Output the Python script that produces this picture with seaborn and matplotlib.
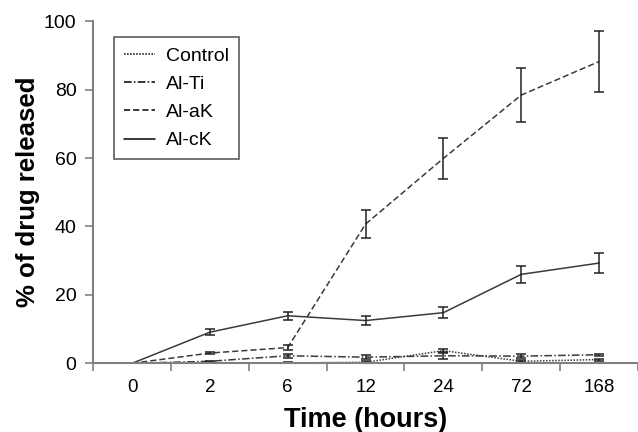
import matplotlib
matplotlib.use("Agg")
import matplotlib.pyplot as plt
import seaborn as sns
import pandas as pd
import numpy as np
from matplotlib.ticker import FixedLocator, NullFormatter

sns.set_style("white")
plt.rcParams['font.family'] = ['Liberation Sans', 'DejaVu Sans']
plt.rcParams['text.color'] = '#000000'
plt.rcParams['axes.labelcolor'] = '#000000'

time_labels = ["0", "2", "6", "12", "24", "72", "168"]
control = [0, 0, 0.1, 0.3, 3.7, 0.6, 1.1]
control_err = [0, 0.2, 0.2, 0.3, 0.4, 0.3, 0.3]
al_ti = [0, 0.6, 2.2, 1.8, 2.2, 2.1, 2.5]
al_ti_err = [0, 0.2, 0.6, 0.6, 0.8, 0.5, 0.3]
al_ak = [0, 3.0, 4.6, 40.7, 59.9, 78.4, 88.2]
al_ak_err = [0, 0.3, 0.7, 4.1, 5.9, 7.8, 8.8]
al_ck = [0, 9.1, 13.9, 12.5, 14.8, 26.0, 29.3]
al_ck_err = [0, 0.9, 1.2, 1.3, 1.6, 2.5, 3.0]

series = ["Control", "Al-Ti", "Al-aK", "Al-cK"]
values = [control, al_ti, al_ak, al_ck]
errors = [control_err, al_ti_err, al_ak_err, al_ck_err]

rows = []
for name, vals, errs in zip(series, values, errors):
    for i, (v, e) in enumerate(zip(vals, errs)):
        rows.append({"series": name, "pos": i, "time": time_labels[i], "value": v, "err": e})
df = pd.DataFrame(rows)

fig = plt.figure(figsize=(6.38, 4.32), dpi=100)
ax = fig.add_axes([0.146, 0.159, 0.854, 0.792])

styles = {
    "Control": (0, (1, 1)),
    "Al-Ti": (0, (5, 1.5, 1, 1.5)),
    "Al-aK": (0, (4, 2)),
    "Al-cK": "-",
}
line_color = "#3a3a3a"
for name in series:
    sub = df[df.series == name]
    sns.lineplot(data=sub, x="pos", y="value", ax=ax, color=line_color,
                 linewidth=1.1, label=name, linestyle=styles[name])
    ax.errorbar(sub["pos"], sub["value"], yerr=sub["err"], fmt="none",
                ecolor="#222222", elinewidth=1.1, capsize=3.5, capthick=1.1)

ax.set_xlim(-0.5, 6.5)
ax.set_ylim(0, 100)
ax.set_yticks([0, 20, 40, 60, 80, 100])
ax.set_xticks(range(len(time_labels)))
ax.set_xticklabels(time_labels)
ax.xaxis.set_minor_locator(FixedLocator(np.arange(-0.5, 7.0, 1.0)))
ax.xaxis.set_minor_formatter(NullFormatter())
ax.tick_params(axis="x", which="major", bottom=True, length=0, labelsize=13.5, pad=11, labelcolor="#000000")
ax.tick_params(axis="x", which="minor", bottom=True, length=6, width=1.2, color="#808080", direction="out")
ax.tick_params(axis="y", left=True, length=6, width=1.2, color="#808080", labelsize=14, labelcolor="#000000", direction="out", pad=6)

for s in ["top", "right"]:
    ax.spines[s].set_visible(False)
for s in ["left", "bottom"]:
    ax.spines[s].set_color("#808080")
    ax.spines[s].set_linewidth(1.5)

ax.set_xlabel("Time (hours)", fontsize=19.5, fontweight="bold", labelpad=8)
ax.set_ylabel("% of drug released", fontsize=18.5, fontweight="bold", labelpad=3)

leg = ax.legend(loc="upper left", bbox_to_anchor=(0.038, 0.953), borderaxespad=0, fontsize=14,
                frameon=True, fancybox=False, handlelength=1.6, handletextpad=0.6,
                borderpad=0.5, labelspacing=0.55)
leg.get_frame().set_edgecolor("#333333")
leg.get_frame().set_linewidth(1.2)
for h in leg.get_lines():
    h.set_color("#000000")

fig.savefig("out.png", dpi=100)
